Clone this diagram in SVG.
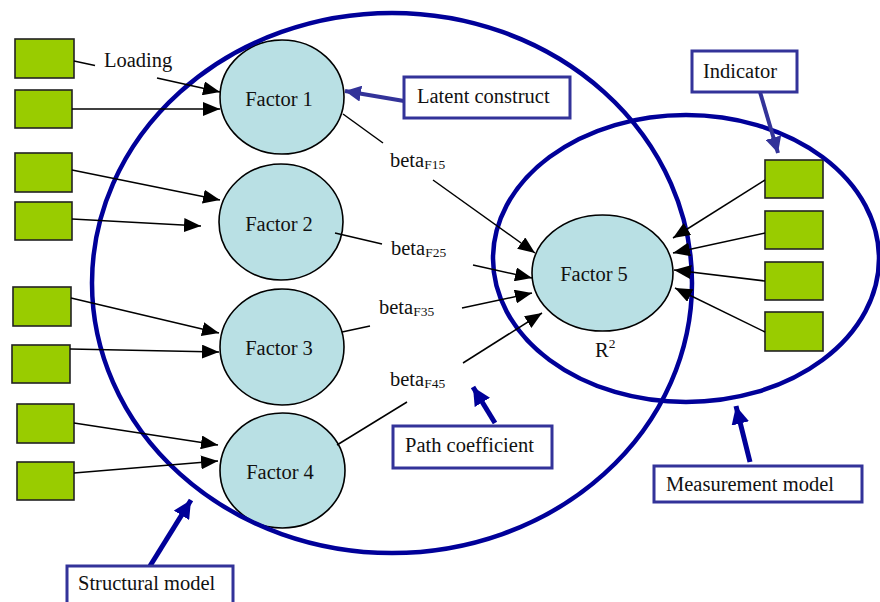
<svg xmlns="http://www.w3.org/2000/svg" width="880" height="602" viewBox="0 0 880 602">
<defs>
<style>
.ind{fill:#99CC00;stroke:#222;stroke-width:1.6}
.fac{fill:#B9E0E4;stroke:#000;stroke-width:1.6}
.model{fill:none;stroke:#000099;stroke-width:4.5}
.con{stroke:#000;stroke-width:1.5;fill:none}
.call{fill:#fff;stroke:#333399;stroke-width:3}
text{font-family:'Liberation Serif','DejaVu Serif',serif;font-size:20.5px;fill:#111}
.sub{font-size:13.5px}
.ca1{stroke:#333399;stroke-width:4;fill:none}
.ca2{stroke:#000099;stroke-width:5;fill:none}
</style>
<marker id="ah" markerUnits="userSpaceOnUse" markerWidth="17" markerHeight="14" refX="17" refY="7" orient="auto">
<path d="M0,0 L17,7 L0,14 z" fill="#000"/>
</marker>
<marker id="ca1h" markerUnits="userSpaceOnUse" markerWidth="16" markerHeight="16" refX="16" refY="8" orient="auto">
<path d="M0,0 L16,8 L0,16 z" fill="#333399"/>
</marker>
<marker id="ca2h" markerUnits="userSpaceOnUse" markerWidth="18" markerHeight="18" refX="18" refY="9" orient="auto">
<path d="M0,0 L18,9 L0,18 z" fill="#000099"/>
</marker>
</defs>
<rect width="880" height="602" fill="#fff"/>

<g id="indicators">
<rect id="i1" class="ind" x="15" y="39" width="59" height="39"/>
<rect id="i2" class="ind" x="15" y="90" width="57" height="38"/>
<rect id="i3" class="ind" x="15" y="153" width="57" height="39"/>
<rect id="i4" class="ind" x="15" y="202" width="57" height="38"/>
<rect id="i5" class="ind" x="13" y="287" width="58" height="39"/>
<rect id="i6" class="ind" x="12" y="345" width="58" height="38"/>
<rect id="i7" class="ind" x="17" y="404" width="57" height="39"/>
<rect id="i8" class="ind" x="17" y="462" width="57" height="38"/>
<rect id="i9" class="ind" x="765" y="160" width="58" height="38"/>
<rect id="i10" class="ind" x="765" y="211" width="58" height="38"/>
<rect id="i11" class="ind" x="765" y="262" width="58" height="38"/>
<rect id="i12" class="ind" x="765" y="312" width="58" height="39"/>
</g>

<g id="factor1"><ellipse class="fac" cx="282" cy="97" rx="62" ry="57"/><text font-family="Liberation Serif, serif" x="279" y="106" text-anchor="middle">Factor 1</text></g>
<g id="factor2"><ellipse class="fac" cx="281" cy="222" rx="62" ry="58"/><text font-family="Liberation Serif, serif" x="279" y="231" text-anchor="middle">Factor 2</text></g>
<g id="factor3"><ellipse class="fac" cx="282" cy="347" rx="62" ry="58"/><text font-family="Liberation Serif, serif" x="279" y="355" text-anchor="middle">Factor 3</text></g>
<g id="factor4"><ellipse class="fac" cx="282.5" cy="470.5" rx="62.5" ry="57.5"/><text font-family="Liberation Serif, serif" x="280" y="479" text-anchor="middle">Factor 4</text></g>
<g id="factor5"><ellipse class="fac" cx="602.5" cy="273" rx="70.5" ry="58"/><text font-family="Liberation Serif, serif" x="594" y="281" text-anchor="middle">Factor 5</text>
<text x="595" y="357">R<tspan class="sub" dy="-9">2</tspan></text></g>

<g id="models">
<ellipse id="structural" class="model" cx="392" cy="283" rx="300" ry="270"/>
<ellipse id="measurement" class="model" cx="686" cy="258.5" rx="193" ry="143.5"/>
</g>

<g id="connectors">
<line class="con" x1="74" y1="61" x2="95" y2="65.5"/>
<line class="con" x1="157" y1="78" x2="220" y2="92" marker-end="url(#ah)"/>
<line class="con" x1="72" y1="109" x2="220" y2="109" marker-end="url(#ah)"/>
<line class="con" x1="72" y1="170" x2="220" y2="200" marker-end="url(#ah)"/>
<line class="con" x1="72" y1="219" x2="201" y2="226" marker-end="url(#ah)"/>
<line class="con" x1="71" y1="298" x2="219" y2="333" marker-end="url(#ah)"/>
<line class="con" x1="70" y1="349" x2="219" y2="352" marker-end="url(#ah)"/>
<line class="con" x1="74" y1="423" x2="218" y2="445" marker-end="url(#ah)"/>
<line class="con" x1="74" y1="473" x2="218" y2="461" marker-end="url(#ah)"/>

<line class="con" x1="343" y1="114" x2="383" y2="143"/>
<line class="con" x1="433" y1="180" x2="535" y2="253" marker-end="url(#ah)"/>
<line class="con" x1="335" y1="233" x2="382" y2="244"/>
<line class="con" x1="473" y1="265" x2="532" y2="278" marker-end="url(#ah)"/>
<line class="con" x1="342" y1="332" x2="370" y2="326"/>
<line class="con" x1="462" y1="308" x2="532" y2="293" marker-end="url(#ah)"/>
<line class="con" x1="337" y1="445" x2="407" y2="402"/>
<line class="con" x1="463" y1="363" x2="542" y2="313" marker-end="url(#ah)"/>

<line class="con" x1="765" y1="180" x2="673" y2="238" marker-end="url(#ah)"/>
<line class="con" x1="765" y1="233" x2="673" y2="253" marker-end="url(#ah)"/>
<line class="con" x1="765" y1="281" x2="674" y2="270" marker-end="url(#ah)"/>
<line class="con" x1="765" y1="332" x2="675" y2="288" marker-end="url(#ah)"/>

<line class="ca1" x1="404" y1="101" x2="345" y2="91" marker-end="url(#ca1h)"/>
<line class="ca1" x1="760" y1="92" x2="778" y2="153" marker-end="url(#ca1h)"/>
<line class="ca2" x1="495" y1="423" x2="473" y2="387" marker-end="url(#ca2h)"/>
<line class="ca2" x1="750" y1="462" x2="736" y2="406" marker-end="url(#ca2h)"/>
<line class="ca2" x1="150" y1="566" x2="191" y2="500" marker-end="url(#ca2h)"/>
</g>

<g id="labels">
<text x="104" y="67">Loading</text>
<text x="390" y="167">beta<tspan class="sub" dy="2">F15</tspan></text>
<text x="391" y="255">beta<tspan class="sub" dy="2">F25</tspan></text>
<text x="379" y="314">beta<tspan class="sub" dy="2">F35</tspan></text>
<text x="390" y="386">beta<tspan class="sub" dy="2">F45</tspan></text>
</g>

<g id="callout-latent"><rect class="call" x="404" y="77" width="166" height="41"/><text x="417" y="103">Latent construct</text></g>
<g id="callout-indicator"><rect class="call" x="692" y="51" width="105" height="41"/><text x="703" y="78">Indicator</text></g>
<g id="callout-path"><rect class="call" x="393" y="426" width="159" height="42"/><text x="405" y="452">Path coefficient</text></g>
<g id="callout-measurement"><rect class="call" x="654" y="466" width="208" height="36"/><text x="666" y="491">Measurement model</text></g>
<g id="callout-structural"><rect class="call" x="67" y="566" width="166" height="42"/><text x="78" y="590">Structural model</text></g>
</svg>
